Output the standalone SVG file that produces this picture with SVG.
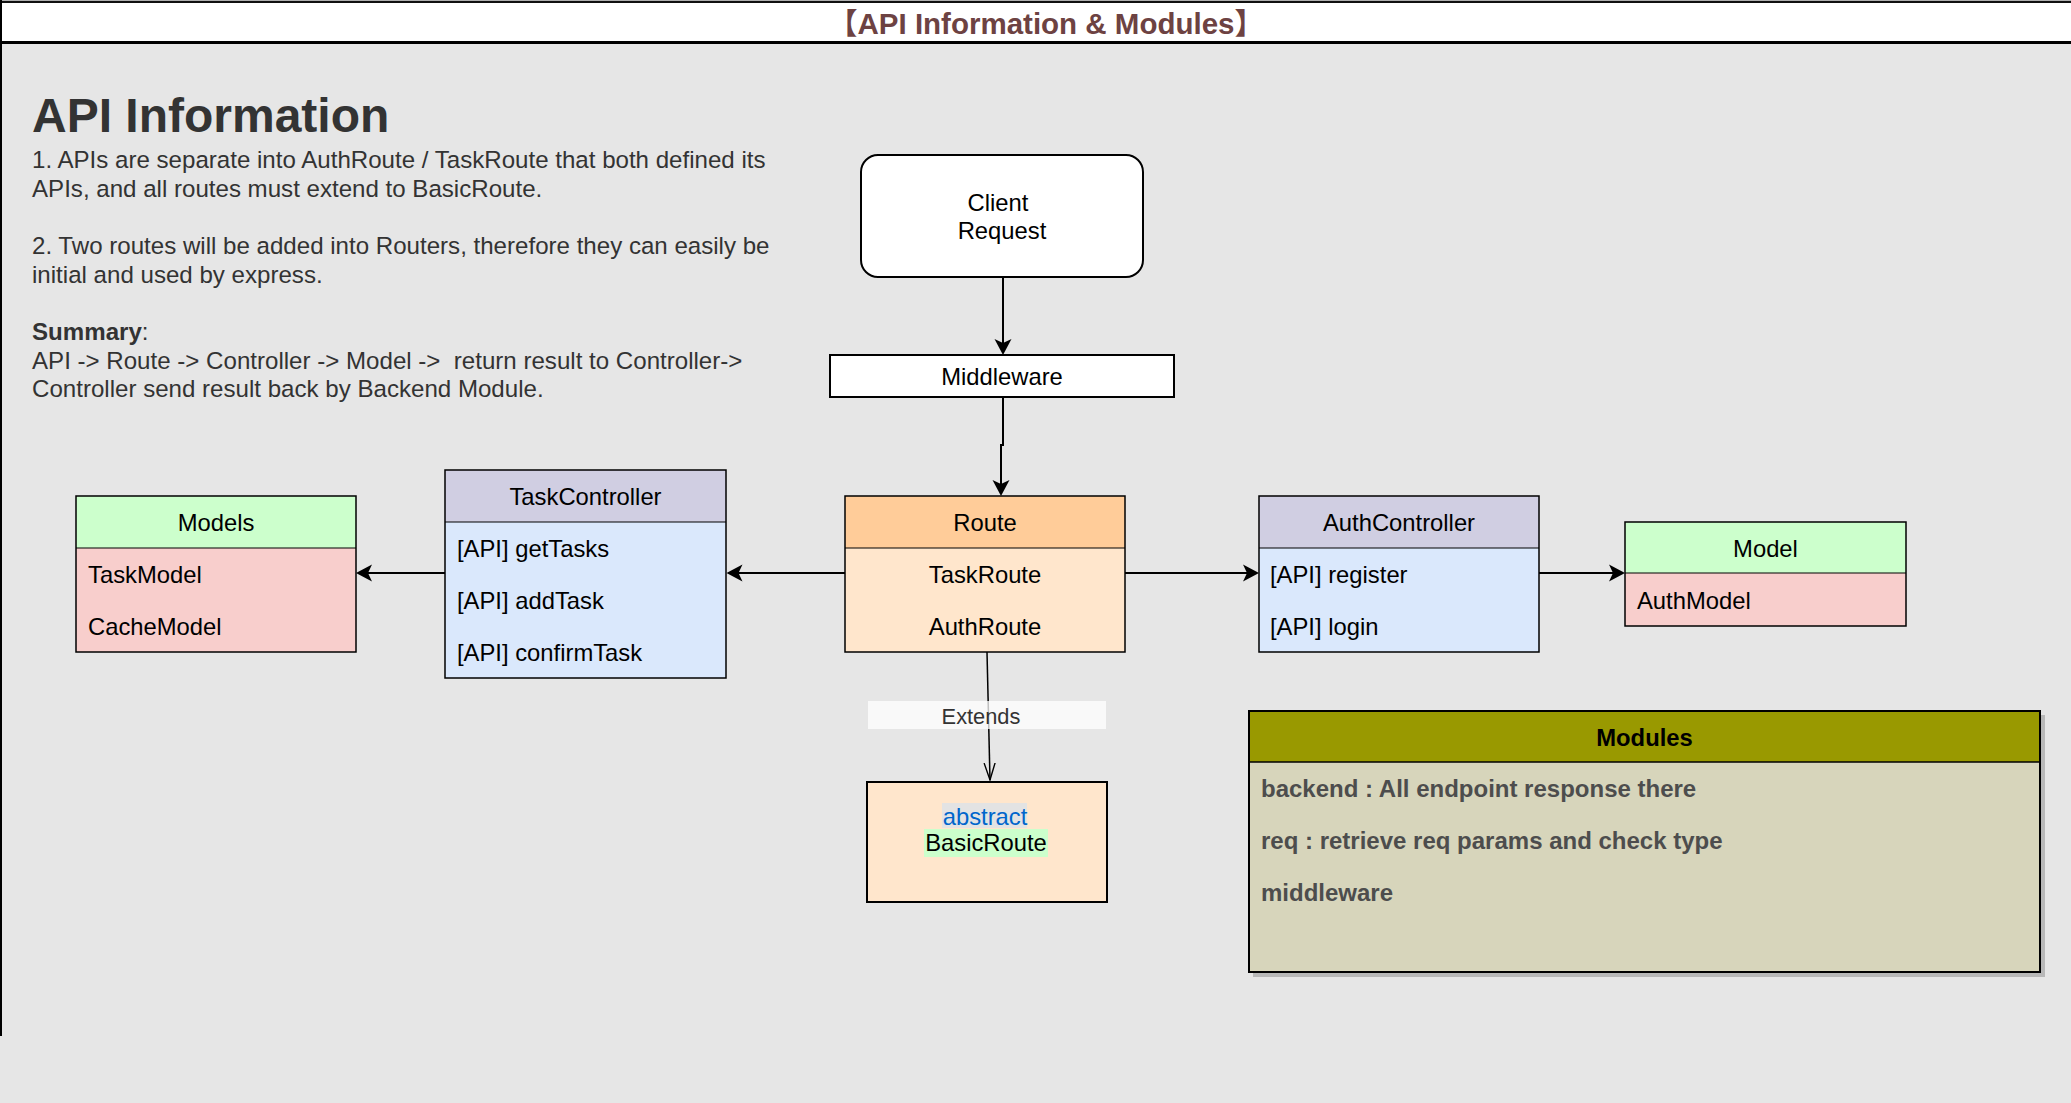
<svg xmlns="http://www.w3.org/2000/svg" width="2071" height="1103" viewBox="0 0 2071 1103">
  <defs>
    <marker id="arr" viewBox="0 0 20 20" markerWidth="20" markerHeight="20" refX="12" refY="10" orient="auto" markerUnits="userSpaceOnUse">
      <path d="M16,10 L0,1.5 L4,10 L0,18.5 Z" fill="#000"/>
    </marker>
    <marker id="open" viewBox="0 0 20 14" markerWidth="20" markerHeight="14" refX="17" refY="7" orient="auto" markerUnits="userSpaceOnUse">
      <path d="M0,1.5 L17,7 L0,12.5" fill="none" stroke="#000" stroke-width="1.4"/>
    </marker>
    <style>
      text { font-family: "Liberation Sans", Arial, Helvetica, "Noto Sans CJK SC", sans-serif; }
      .t { font-size: 23.8px; fill: #000; }
      .c { text-anchor: middle; }
      .body { font-size: 24.1px; fill: #333333; }
      .mod { font-size: 24px; fill: #4d4d4d; font-weight: bold; }
      .box { stroke: #000; stroke-width: 1.5; }
      .sep { stroke: #000; stroke-width: 1; }
      .edge { fill: none; stroke: #000; stroke-width: 2; }
    </style>
  </defs>

  <!-- background & container -->
  <rect x="0" y="0" width="2071" height="1103" fill="#e6e6e6"/>
  <rect x="1" y="2" width="2072" height="40" fill="#ffffff"/>
  <line x1="0" y1="1.8" x2="2071" y2="1.8" stroke="#111" stroke-width="2.2"/>
  <line x1="0" y1="42.5" x2="2071" y2="42.5" stroke="#000" stroke-width="3"/>
  <line x1="1" y1="0" x2="1" y2="1036" stroke="#000" stroke-width="2"/>
  <text x="1046" y="33.5" text-anchor="middle" font-size="29.5" font-weight="bold" fill="#6d4242">【API Information &amp; Modules】</text>

  <!-- description text -->
  <g id="info">
    <text x="32" y="131.5" font-size="48" font-weight="bold" fill="#333333">API Information</text>
    <text class="body" x="32" y="168.3">1. APIs are separate into AuthRoute / TaskRoute that both defined its</text>
    <text class="body" x="32" y="196.9">APIs, and all routes must extend to BasicRoute.</text>
    <text class="body" x="32" y="254.1">2. Two routes will be added into Routers, therefore they can easily be</text>
    <text class="body" x="32" y="282.7">initial and used by express.</text>
    <text class="body" x="32" y="339.9"><tspan font-weight="bold">Summary</tspan>:</text>
    <text class="body" x="32" y="368.5">API -&gt; Route -&gt; Controller -&gt; Model -&gt;&#160; return result to Controller-&gt;</text>
    <text class="body" x="32" y="397.1">Controller send result back by Backend Module.</text>
  </g>

  <!-- connectors -->
  <g id="connectors">
    <line class="edge" x1="1003" y1="277" x2="1003" y2="351" marker-end="url(#arr)"/>
    <polyline class="edge" points="1003,397 1003,445 1001,445 1001,492" marker-end="url(#arr)"/>
    <line class="edge" x1="845" y1="573" x2="730.5" y2="573" marker-end="url(#arr)"/>
    <line class="edge" x1="445" y1="573" x2="360" y2="573" marker-end="url(#arr)"/>
    <line class="edge" x1="1125" y1="573" x2="1255" y2="573" marker-end="url(#arr)"/>
    <line class="edge" x1="1539" y1="573" x2="1621" y2="573" marker-end="url(#arr)"/>
    <line x1="987" y1="652" x2="990" y2="780" stroke="#000" stroke-width="1.5" marker-end="url(#open)"/>
    <g id="extends-label">
      <rect x="868" y="701" width="238" height="28" fill="#ffffff" fill-opacity="0.75"/>
      <text x="981" y="723.5" text-anchor="middle" font-size="21.8" fill="#333333">Extends</text>
    </g>
  </g>

  <!-- Client Request -->
  <g id="client-request">
    <rect x="861" y="155" width="282" height="122" rx="17" ry="17" fill="#ffffff" stroke="#000" stroke-width="2"/>
    <text class="t c" x="998" y="211">Client</text>
    <text class="t c" x="1002" y="239">Request</text>
  </g>

  <!-- Middleware -->
  <g id="middleware">
    <rect x="830" y="355" width="344" height="42" fill="#ffffff" stroke="#000" stroke-width="2"/>
    <text class="t c" x="1002" y="385">Middleware</text>
  </g>

  <!-- Route -->
  <g id="route">
    <rect x="845" y="496" width="280" height="156" fill="#ffe6cc"/>
    <rect x="845" y="496" width="280" height="52" fill="#ffcc99"/>
    <rect class="box" x="845" y="496" width="280" height="156" fill="none"/>
    <line class="sep" x1="845" y1="548" x2="1125" y2="548"/>
    <text class="t c" x="985" y="530.5">Route</text>
    <text class="t c" x="985" y="582.5">TaskRoute</text>
    <text class="t c" x="985" y="634.5">AuthRoute</text>
  </g>

  <!-- TaskController -->
  <g id="task-controller">
    <rect x="445" y="470" width="281" height="208" fill="#dae8fc"/>
    <rect x="445" y="470" width="281" height="52" fill="#d0cee2"/>
    <rect class="box" x="445" y="470" width="281" height="208" fill="none"/>
    <line class="sep" x1="445" y1="522" x2="726" y2="522"/>
    <text class="t c" x="585.5" y="504.5">TaskController</text>
    <text class="t" x="457" y="556.5">[API] getTasks</text>
    <text class="t" x="457" y="608.5">[API] addTask</text>
    <text class="t" x="457" y="660.5">[API] confirmTask</text>
  </g>

  <!-- Models -->
  <g id="models">
    <rect x="76" y="496" width="280" height="156" fill="#f8cecc"/>
    <rect x="76" y="496" width="280" height="52" fill="#ccffcc"/>
    <rect class="box" x="76" y="496" width="280" height="156" fill="none"/>
    <line class="sep" x1="76" y1="548" x2="356" y2="548"/>
    <text class="t c" x="216" y="530.5">Models</text>
    <text class="t" x="88" y="582.5">TaskModel</text>
    <text class="t" x="88" y="634.5">CacheModel</text>
  </g>

  <!-- AuthController -->
  <g id="auth-controller">
    <rect x="1259" y="496" width="280" height="156" fill="#dae8fc"/>
    <rect x="1259" y="496" width="280" height="52" fill="#d0cee2"/>
    <rect class="box" x="1259" y="496" width="280" height="156" fill="none"/>
    <line class="sep" x1="1259" y1="548" x2="1539" y2="548"/>
    <text class="t c" x="1399" y="530.5">AuthController</text>
    <text class="t" x="1270" y="582.5">[API] register</text>
    <text class="t" x="1270" y="634.5">[API] login</text>
  </g>

  <!-- Model -->
  <g id="model">
    <rect x="1625" y="522" width="281" height="104" fill="#f8cecc"/>
    <rect x="1625" y="522" width="281" height="51" fill="#ccffcc"/>
    <rect class="box" x="1625" y="522" width="281" height="104" fill="none"/>
    <line class="sep" x1="1625" y1="573" x2="1906" y2="573"/>
    <text class="t c" x="1765.5" y="557">Model</text>
    <text class="t" x="1637" y="609">AuthModel</text>
  </g>

  <!-- BasicRoute -->
  <g id="basic-route">
    <rect x="867" y="782" width="240" height="120" fill="#ffe6cc" stroke="#000" stroke-width="2"/>
    <rect x="942" y="803" width="85" height="25" fill="#e3e3e3"/>
    <rect x="924" y="829" width="124" height="28" fill="#ccffcc"/>
    <text class="c" x="985" y="825" font-size="23.8" fill="#0066cc">abstract</text>
    <text class="t c" x="986" y="851">BasicRoute</text>
  </g>

  <!-- Modules -->
  <g id="modules">
    <rect x="1253" y="715" width="792" height="262" fill="#b8b8b8"/>
    <rect x="1251" y="713" width="789" height="259" fill="#f0f0f0"/>
    <rect x="1249" y="711" width="791" height="261" fill="#d7d5bb"/>
    <rect x="1249" y="711" width="791" height="51" fill="#999900"/>
    <rect x="1249" y="711" width="791" height="261" fill="none" stroke="#000" stroke-width="2"/>
    <line x1="1249" y1="762" x2="2040" y2="762" stroke="#000" stroke-width="1.5"/>
    <text x="1644.5" y="746" text-anchor="middle" font-size="23.8" font-weight="bold" fill="#000">Modules</text>
    <text class="mod" x="1261" y="797">backend : All endpoint response there</text>
    <text class="mod" x="1261" y="849">req : retrieve req params and check type</text>
    <text class="mod" x="1261" y="901">middleware</text>
  </g>
</svg>
